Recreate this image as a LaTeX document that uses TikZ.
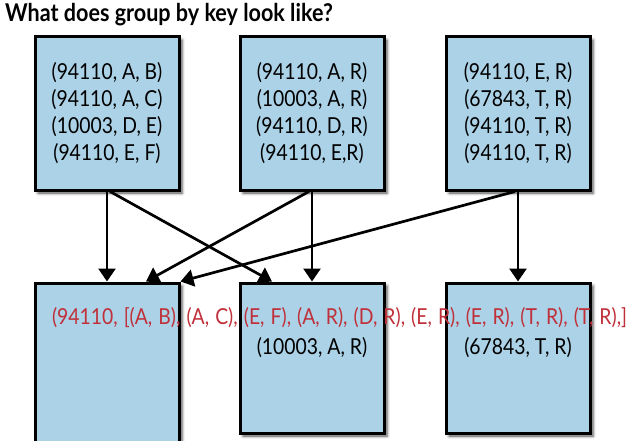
\documentclass[tikz,border=0pt]{standalone}
\usepackage{fontspec}
\setmainfont[FakeStretch=0.88]{Lato}
\newfontface\widespaced[FakeStretch=0.88,WordSpace=1.22]{Lato}
\usetikzlibrary{shadows.blur,arrows.meta}
\definecolor{boxblue}{RGB}{171,210,230}
\definecolor{keyred}{RGB}{192,48,58}
\begin{document}
\begin{tikzpicture}[x=1pt,y=-1pt,
  databox/.style={draw=black, line width=3pt, fill=boxblue, inner sep=0pt,
    blur shadow={shadow xshift=3pt, shadow yshift=-3pt, shadow blur radius=3pt, shadow opacity=70},
    font=\fontsize{22}{27}\selectfont, align=center},
  toprec/.style={databox, minimum width=144pt, minimum height=153pt},
  botrec/.style={databox, minimum width=144pt, minimum height=150pt},
  rec/.style={font=\fontsize{22}{27}\selectfont, inner sep=0pt},
  flow/.style={line width=2.7pt, -{Triangle[width=17pt,length=13pt]}},
]
\useasboundingbox (0,0) rectangle (639,441);
\node[anchor=base west, inner sep=0pt, font=\bfseries\fontsize{24.5}{28}\selectfont] (title) at (5,22) {What does group by key look like?};

\node[toprec] (t1) at (107,113.5) {(94110, A, B)\\(94110, A, C)\\(10003, D, E)\\(94110, E, F)};
\node[toprec] (t2) at (312,113.5) {(94110, A, R)\\(10003, A, R)\\(94110, D, R)\\(94110, E,R)};
\node[toprec] (t3) at (518,113.5) {(94110, E, R)\\(67843, T, R)\\(94110, T, R)\\(94110, T, R)};

\node[databox, minimum width=144pt, minimum height=167pt] (b1) at (107,366.5) {};
\node[botrec] (b2) at (312,358) {};
\node[botrec] (b3) at (518,358) {};

\draw[flow] (t1.south) -- (b1.north);
\draw[flow] ([xshift=3pt]t1.south) -- ([xshift=-40pt]b2.north);
\draw[flow] ([xshift=-3pt]t2.south) -- ([xshift=39pt]b1.north);
\draw[flow] (t2.south) -- (b2.north);
\draw[flow] ([xshift=-3pt]t3.south) -- (b1.north east);
\draw[flow] (t3.south) -- (b3.north);

\node[inner sep=0pt, font=\widespaced\fontsize{22}{27}\selectfont, text=keyred] (grouped) at (339.5,318) {(94110, [(A, B), (A, C), (E, F), (A, R), (D, R), (E, R), (E, R), (T, R), (T, R),]};
\node[rec] (k2) at (312,348) {(10003, A, R)};
\node[rec] (k3) at (518,348) {(67843, T, R)};
\end{tikzpicture}
\end{document}
